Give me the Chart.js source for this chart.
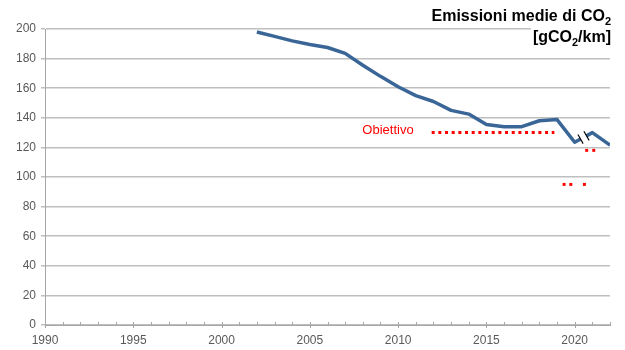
<!DOCTYPE html>
<html>
<head>
<meta charset="utf-8">
<script src="https://cdn.jsdelivr.net/npm/chart.js@4.4.1/dist/chart.umd.min.js"></script>
<style>
  html, body { margin: 0; padding: 0; background: #ffffff; }
  #wrap { width: 625px; height: 350px; }
</style>
</head>
<body>
<div id="wrap"><canvas id="chart" width="625" height="350"></canvas></div>
<script>
// Average CO2 emissions of new passenger cars (gCO2/km)
const years = [2002, 2003, 2004, 2005, 2006, 2007, 2008, 2009, 2010, 2011, 2012,
               2013, 2014, 2015, 2016, 2017, 2018, 2019, 2020, 2021, 2022];
const emissions = [198, 195, 192, 189.5, 187.5, 183.5, 175.5, 168, 161, 155, 151,
                   145, 142.5, 135.5, 134, 134, 138, 138.8, 123.5, 130, 121.5];

// Targets ("Obiettivo")
const target130Years = [2011.9, 2018.85];
const target130Values = [130, 130];
const target118Years = [2020.68, 2021.08];
const target118Values = [118, 118];
const target95Years = [2019.4, 2019.78, 2020.55];
const target95Values = [95, 95, 95];

// Axis ranges and labels
const xMin = 1990, xMax = 2022, xLabelStep = 5;
const yMin = 0, yMax = 200, yStep = 20;
const titleLine1 = [{ t: 'Emissioni medie di CO' }, { t: '2', sub: true }];
const titleLine2 = [{ t: '[gCO' }, { t: '2', sub: true }, { t: '/km]' }];
const targetLabel = 'Obiettivo';

const FONT = '"Liberation Sans", Arial, Helvetica, sans-serif';
const BLUE = '#3A6597';
const RED = '#FF0000';
const GRID = '#BFBFBF';
const AXIS = '#A6A6A6';
const TICK_TEXT = '#595959';

const toPoints = (xs, ys) => xs.map((x, i) => ({ x: x, y: ys[i] }));

// Year tick marks: long ones on labelled years, short inner ones elsewhere
const yearTicks = {
  id: 'yearTicks',
  beforeDatasetsDraw(chart) {
    const { ctx } = chart;
    const xs = chart.scales.x;
    const y0 = chart.scales.y.getPixelForValue(yMin);
    ctx.save();
    ctx.strokeStyle = AXIS;
    ctx.lineWidth = 1;
    for (let v = xMin; v <= xMax; v++) {
      const px = Math.round(xs.getPixelForValue(v)) + 0.5;
      const major = v % xLabelStep === 0;
      ctx.beginPath();
      ctx.moveTo(px, y0 - 3);
      ctx.lineTo(px, major ? y0 + 3 : y0);
      ctx.stroke();
    }
    ctx.restore();
  }
};

// Break mark on the emission line between 2020 and 2021
const breakMark = {
  id: 'breakMark',
  afterDatasetsDraw(chart) {
    const { ctx } = chart;
    const meta = chart.getDatasetMeta(0);
    const i = years.indexOf(2020);
    const a = meta.data[i], b = meta.data[i + 1];
    const cx = (a.x + b.x) / 2, cy = (a.y + b.y) / 2;
    const slope = (b.y - a.y) / (b.x - a.x);
    const hx = 2.6, hy = 4.6, off = 3.0;
    const c1 = { x: cx - off, y: cy - off * slope };
    const c2 = { x: cx + off, y: cy + off * slope };
    ctx.save();
    ctx.fillStyle = '#ffffff';
    ctx.beginPath();
    ctx.moveTo(c1.x - hx, c1.y - hy);
    ctx.lineTo(c2.x - hx, c2.y - hy);
    ctx.lineTo(c2.x + hx, c2.y + hy);
    ctx.lineTo(c1.x + hx, c1.y + hy);
    ctx.closePath();
    ctx.fill();
    ctx.strokeStyle = '#000000';
    ctx.lineWidth = 1.1;
    [c1, c2].forEach(c => {
      ctx.beginPath();
      ctx.moveTo(c.x - hx, c.y - hy);
      ctx.lineTo(c.x + hx, c.y + hy);
      ctx.stroke();
    });
    ctx.restore();
  }
};

// Title (with subscript) and target label
function drawRich(ctx, parts, right, baseline, size) {
  const widths = parts.map(p => {
    ctx.font = 'bold ' + (p.sub ? Math.round(size * 0.66) : size) + 'px ' + FONT;
    return ctx.measureText(p.t).width;
  });
  const total = widths.reduce((s, w) => s + w, 0);
  let x = right - total;
  ctx.fillStyle = '#ffffff';
  ctx.fillRect(x - 2, baseline - size + 1, total + 4, size + 5);
  ctx.fillStyle = '#000000';
  ctx.textBaseline = 'alphabetic';
  ctx.textAlign = 'left';
  parts.forEach((p, k) => {
    ctx.font = 'bold ' + (p.sub ? Math.round(size * 0.66) : size) + 'px ' + FONT;
    ctx.fillText(p.t, x, p.sub ? baseline + 4 : baseline);
    x += widths[k];
  });
}

const annotations = {
  id: 'annotations',
  afterDraw(chart) {
    const { ctx } = chart;
    ctx.save();
    drawRich(ctx, titleLine1, 611, 21, 16);
    drawRich(ctx, titleLine2, 611, 42, 16);
    const xs = chart.scales.x, ys = chart.scales.y;
    ctx.font = '13px ' + FONT;
    ctx.fillStyle = RED;
    ctx.textAlign = 'right';
    ctx.textBaseline = 'middle';
    ctx.fillText(targetLabel, xs.getPixelForValue(target130Years[0]) - 18,
                 ys.getPixelForValue(target130Values[0]) - 2);
    ctx.restore();
  }
};

new Chart(document.getElementById('chart'), {
  type: 'line',
  data: {
    datasets: [
      {
        data: toPoints(years, emissions),
        borderColor: BLUE,
        borderWidth: 3.5,
        borderJoinStyle: 'round',
        pointRadius: 0,
        tension: 0,
        fill: false
      },
      {
        data: toPoints(target130Years, target130Values),
        borderColor: RED,
        borderWidth: 3,
        borderDash: [3, 3.67],
        pointRadius: 0,
        fill: false
      },
      {
        data: toPoints(target118Years, target118Values),
        showLine: false,
        pointStyle: 'rect',
        pointRadius: 2.1,
        pointBorderWidth: 0,
        pointBackgroundColor: RED
      },
      {
        data: toPoints(target95Years, target95Values),
        showLine: false,
        pointStyle: 'rect',
        pointRadius: 2.1,
        pointBorderWidth: 0,
        pointBackgroundColor: RED
      }
    ]
  },
  options: {
    responsive: false,
    animation: false,
    devicePixelRatio: 1,
    layout: { padding: { top: 29, right: 15, left: 0, bottom: 0 } },
    plugins: { legend: { display: false }, tooltip: { enabled: false }, title: { display: false } },
    scales: {
      x: {
        type: 'linear',
        min: xMin,
        max: xMax,
        afterFit: s => { s.height = 25; },
        grid: { display: false, drawTicks: false },
        border: { display: true, color: AXIS, width: 1 },
        ticks: {
          stepSize: 1,
          autoSkip: false,
          maxRotation: 0,
          padding: 8,
          color: TICK_TEXT,
          font: { family: FONT, size: 12 },
          callback: v => (v % xLabelStep === 0 ? String(v) : '')
        }
      },
      y: {
        min: yMin,
        max: yMax,
        afterFit: s => { s.width = 45; },
        grid: { color: GRID, lineWidth: 1.5, tickLength: 4, drawTicks: true },
        border: { display: true, color: AXIS, width: 1 },
        ticks: {
          stepSize: yStep,
          padding: 5,
          color: TICK_TEXT,
          font: { family: FONT, size: 12 }
        }
      }
    }
  },
  plugins: [yearTicks, breakMark, annotations]
});
</script>
</body>
</html>
